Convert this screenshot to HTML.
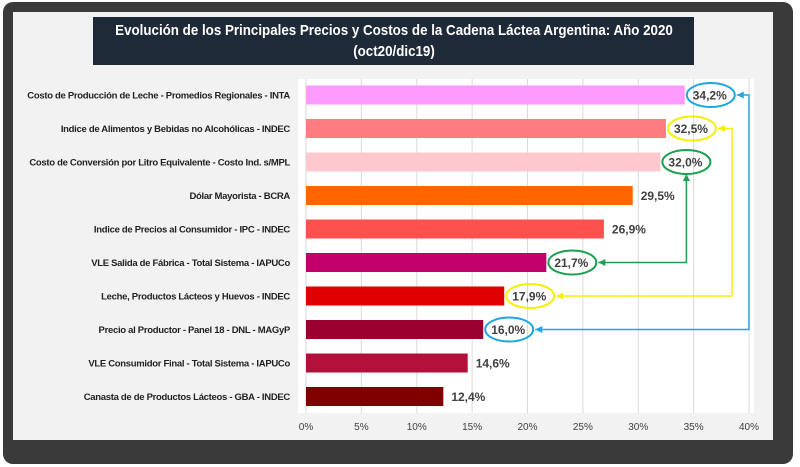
<!DOCTYPE html>
<html><head><meta charset="utf-8"><style>
body{margin:0;width:800px;height:467px;background:#fff;overflow:hidden;font-family:"Liberation Sans",sans-serif}
#frame{position:absolute;left:3px;top:2px;width:790px;height:462px;background:#3a3a3a;border-radius:10px}
#panel{position:absolute;left:13px;top:12px;width:760px;height:428px;background:#f2f2f2}
#title{position:absolute;left:93px;top:17px;width:601px;height:48px;background:#1f2a38;color:#fff;font-weight:bold;font-size:15px;line-height:21px;padding-top:3px;box-sizing:border-box;white-space:nowrap;overflow:hidden}
#title span{display:block;width:max-content;margin-left:50%;transform:translateX(-50%) scaleX(0.89);transform-origin:50% 50%}
svg{position:absolute;left:0;top:0}
</style></head><body>
<div id="frame"></div>
<div id="panel"></div>
<div id="title"><span>Evolución de los Principales Precios y Costos de la Cadena Láctea Argentina: Año 2020</span><span>(oct20/dic19)</span></div>
<svg id="chart" width="800" height="467"></svg>
<script>
const categories=["Costo de Producción de Leche - Promedios Regionales - INTA","Indice de Alimentos y Bebidas no Alcohólicas - INDEC","Costo de Conversión por Litro Equivalente - Costo Ind. s/MPL","Dólar Mayorista - BCRA","Indice de Precios al Consumidor - IPC - INDEC","VLE Salida de Fábrica - Total Sistema - IAPUCo","Leche, Productos Lácteos y Huevos - INDEC","Precio al Productor - Panel 18 - DNL - MAGyP","VLE Consumidor Final - Total Sistema - IAPUCo","Canasta de de Productos Lácteos - GBA - INDEC"];
const values=[34.2,32.5,32.0,29.5,26.9,21.7,17.9,16.0,14.6,12.4];
const labels=["34,2%","32,5%","32,0%","29,5%","26,9%","21,7%","17,9%","16,0%","14,6%","12,4%"];
const colors=["#ff99ff","#ff7c80","#ffc7ce","#ff6600","#ff5050","#c0006a","#e00000","#99002f","#b0103a","#800000"];
const ticks=[0,5,10,15,20,25,30,35,40];
const tickLabels=["0%","5%","10%","15%","20%","25%","30%","35%","40%"];
const circled=[[0,"#1ea7e0"],[1,"#f5f000"],[2,"#1aa050"],[5,"#1aa050"],[6,"#f5f000"],[7,"#1ea7e0"]];
const links=[[0,7,"#1ea7e0",749],[1,6,"#f5f000",732],[2,5,"#1aa050",689]];

const svg=document.getElementById('chart');const NS="http://www.w3.org/2000/svg";
const x0=306,x1=749,vmax=40;const X=v=>x0+(x1-x0)*v/vmax;
const Y=i=>95+i*33.5;
function mk(t,a){const e=document.createElementNS(NS,t);for(const k in a)e.setAttribute(k,a[k]);svg.appendChild(e);return e;}
const pa=mk('rect',{x:298,y:79,width:456,height:334,fill:'#fff'});


ticks.forEach((t,i)=>{
 const g=mk('line',{x1:X(t),x2:X(t),y1:79,y2:413,stroke:'#d9d9d9','stroke-width':1});
 
 
 const tl=mk('text',{x:X(t),y:430,'text-anchor':'middle','font-size':10,fill:'#404040'});tl.textContent=tickLabels[i];
 
 
});
values.forEach((v,i)=>{
 const b=mk('rect',{x:x0,y:Y(i)-9.5,width:X(v)-x0,height:19,fill:colors[i]});
 
 
 const c=mk('text',{x:290,y:Y(i)+3.5,'text-anchor':'end','font-size':9.5,'font-weight':'bold',fill:'#222','letter-spacing':'-0.3'});c.textContent=categories[i];
 
 
 const l=mk('text',{x:X(v)+8,y:Y(i)+4.5,'font-size':12,'font-weight':'bold',fill:'#404040'});l.textContent=labels[i];
 
 
});
circled.forEach(([i,col])=>{
 const e=mk('ellipse',{cx:X(values[i])+26,cy:Y(i),rx:24,ry:12,fill:'none',stroke:col,'stroke-width':2});
 
 
});
links.forEach(([a,b,col,lx])=>{
 let d;
 if(lx>X(values[a])+52){d=`M${X(values[a])+52},${Y(a)} H${lx} V${Y(b)} H${X(values[b])+52}`;}
 else{d=`M${X(values[a])+26},${Y(a)+12} V${Y(b)} H${X(values[b])+52}`;}
 const p=mk('path',{d:d,fill:'none',stroke:col,'stroke-width':1.5});
 
 
 const ah=mk('path',{d:`M${X(values[b])+52},${Y(b)} l7,-3.5 v7 z`,fill:col});
 
 
 const ah2=lx>X(values[a])+52?mk('path',{d:`M${X(values[a])+52},${Y(a)} l7,-3.5 v7 z`,fill:col}):mk('path',{d:`M${X(values[a])+26},${Y(a)+12} l-3.5,7 h7 z`,fill:col});
 
 
});
</script>
</body></html>
